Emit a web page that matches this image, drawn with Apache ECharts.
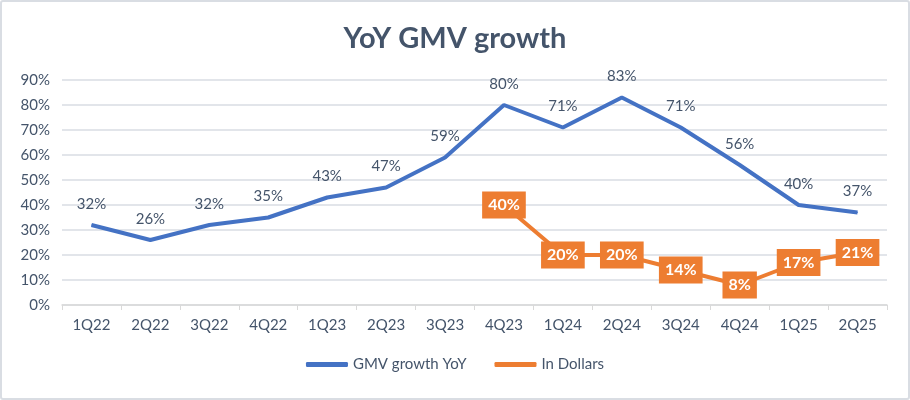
<!DOCTYPE html>
<html>
<head>
<meta charset="utf-8">
<script src="https://cdn.jsdelivr.net/npm/echarts@6/dist/echarts.min.js"></script>
<style>
html,body{margin:0;padding:0;background:#fff;}
#chart{width:906px;height:396px;border:2px solid #d9dde3;border-radius:3px;}
</style>
</head>
<body>
<div id="chart"></div>
<script>
var quarters = ['1Q22','2Q22','3Q22','4Q22','1Q23','2Q23','3Q23','4Q23','1Q24','2Q24','3Q24','4Q24','1Q25','2Q25'];
var gmvYoY = [32, 26, 32, 35, 43, 47, 59, 80, 71, 83, 71, 56, 40, 37];
var inDollars = [null, null, null, null, null, null, null, 40, 20, 20, 14, 8, 17, 21];
var yTicks = [0, 10, 20, 30, 40, 50, 60, 70, 80, 90];

var textColor = '#44546A';
var font = 'Lato, "Open Sans", sans-serif';

var myChart = echarts.init(document.getElementById('chart'));
var option = {
	animation: false,
	textStyle: {fontFamily: font},
	title: {
		text: 'YoY GMV growth',
		left: 'center',
		top: 17,
		textStyle: {fontSize: 29, fontWeight: 'bold', color: textColor, fontFamily: font}
	},
	legend: {
		bottom: 21,
		itemGap: 28,
		itemWidth: 42,
		itemHeight: 5,
		icon: 'roundRect',
		textStyle: {fontSize: 15, color: textColor, fontFamily: font},
		data: ['GMV growth YoY', 'In Dollars']
	},
	grid: {left: 60, right: 21, top: 78, bottom: 93},
	xAxis: {
		type: 'category',
		data: quarters,
		boundaryGap: true,
		axisLine: {lineStyle: {color: '#d9d9d9', width: 1.5}},
		axisTick: {show: true, length: 5, lineStyle: {color: '#d9d9d9'}},
		axisLabel: {fontSize: 15, color: textColor, margin: 13, fontFamily: font}
	},
	yAxis: {
		type: 'value',
		min: yTicks[0],
		max: yTicks[yTicks.length - 1],
		interval: 10,
		axisLine: {show: false},
		axisTick: {show: false},
		axisLabel: {fontSize: 15, color: textColor, margin: 12, formatter: '{value}%', fontFamily: font},
		splitLine: {lineStyle: {color: '#d9dde3', width: 1.5}}
	},
	series: [
		{
			name: 'GMV growth YoY',
			type: 'line',
			data: gmvYoY,
			symbol: 'circle',
			symbolSize: 1,
			showSymbol: true,
			lineStyle: {color: '#4472C4', width: 4},
			itemStyle: {color: '#4472C4'},
			label: {
				show: true,
				position: 'top',
				distance: 13,
				formatter: '{c}%',
				fontSize: 15,
				color: textColor,
				fontFamily: font
			}
		},
		{
			name: 'In Dollars',
			type: 'line',
			data: inDollars,
			symbol: 'circle',
			symbolSize: 1,
			showSymbol: true,
			lineStyle: {color: '#ED7D31', width: 4},
			itemStyle: {color: '#ED7D31'},
			label: {
				show: true,
				position: 'inside',
				formatter: '{c}%',
				fontSize: 16,
				fontWeight: 'bold',
				color: '#fff',
				backgroundColor: '#ED7D31',
				padding: [6, 6, 5, 6],
				fontFamily: font
			}
		}
	]
};
myChart.setOption(option);
window.addEventListener('resize', function () {
	myChart.resize();
});
</script>
</body>
</html>
